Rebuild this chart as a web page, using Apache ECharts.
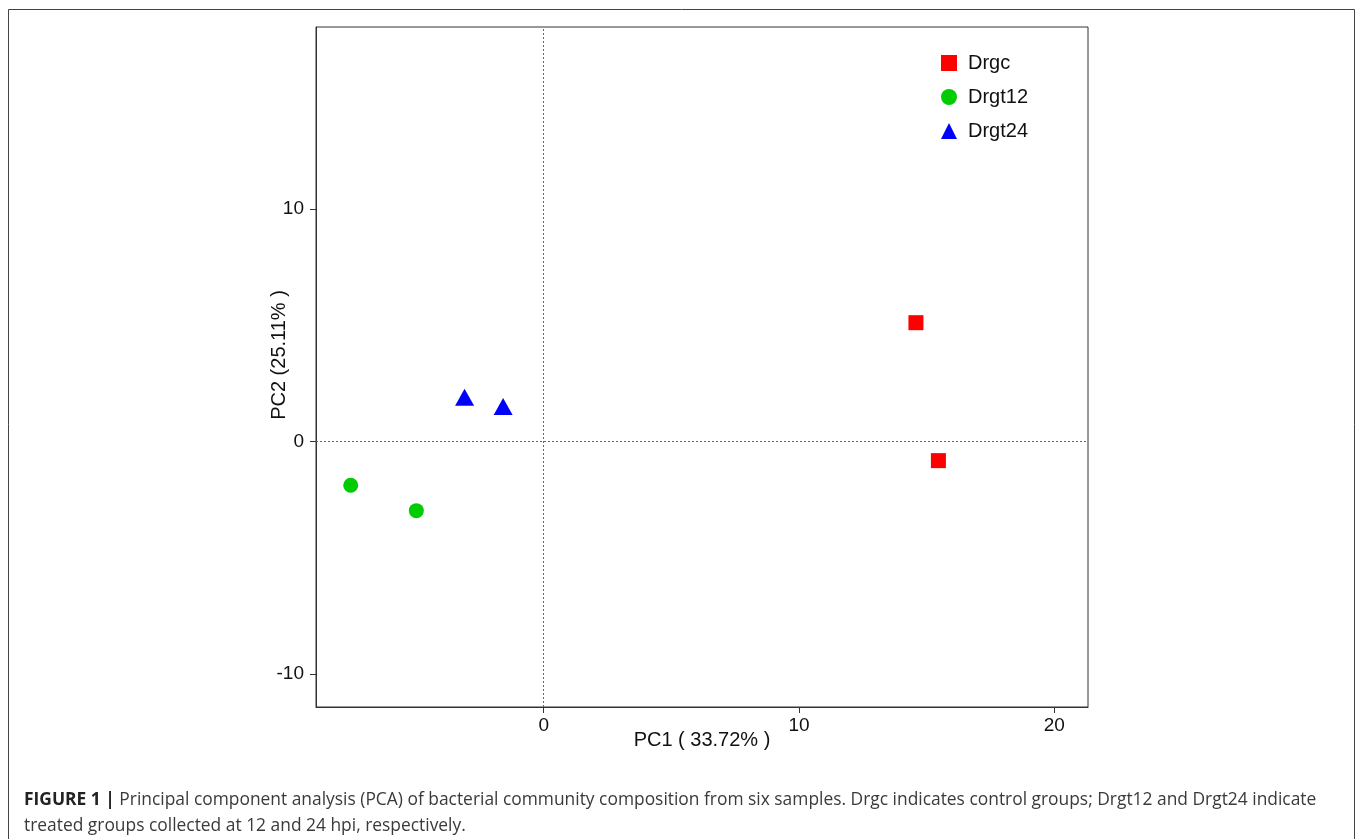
<!DOCTYPE html>
<html><head><meta charset="utf-8">
<script src="https://cdn.jsdelivr.net/npm/echarts@6/dist/echarts.min.js"></script>
<style>html,body{margin:0;padding:0;background:#fff}#c{width:1358px;height:839px}</style>
</head><body><div id="c"></div>
<script>
const groups = ['Drgc', 'Drgt12', 'Drgt24'];
const drgcPC1 = [14.58, 15.46];
const drgcPC2 = [5.11, -0.82];
const drgt12PC1 = [-7.56, -4.99];
const drgt12PC2 = [-1.88, -2.97];
const drgt24PC1 = [-3.10, -1.59];
const drgt24PC2 = [1.90, 1.51];
const xTicks = [0, 10, 20];
const yTicks = [-10, 0, 10];
const xName = 'PC1 ( 33.72% )';
const yName = 'PC2 (25.11% )';
const captionBold = 'FIGURE 1 |';
const captionLine1 = ' Principal component analysis (PCA) of bacterial community composition from six samples. Drgc indicates control groups; Drgt12 and Drgt24 indicate';
const captionLine2 = 'treated groups collected at 12 and 24 hpi, respectively.';

function pts(xs, ys) { return xs.map((x, i) => [x, ys[i]]); }

const FONT = '"Liberation Sans", Arial, sans-serif';
const CAPFONT = '"Open Sans", "Liberation Sans", sans-serif';
const chart = echarts.init(document.getElementById('c'), null, {renderer: 'canvas'});
const axisCommon = {
  type: 'value',
  axisLine: {show: true, onZero: false, lineStyle: {color: '#333', width: 1}},
  axisTick: {show: true, length: 6, inside: false, lineStyle: {color: '#333'}},
  axisLabel: {fontSize: 19, color: '#111', fontFamily: FONT},
  splitLine: {show: false},
  nameMoveOverlap: false,
  nameTextStyle: {fontSize: 20, color: '#111', fontFamily: FONT}
};
chart.setOption({
  animation: false,
  backgroundColor: '#fff',
  grid: {left: 316, top: 27, right: 270, bottom: 132, show: true, borderColor: '#333', borderWidth: 1, containLabel: false},
  xAxis: Object.assign({}, axisCommon, {
    min: -8.92, max: 21.32,
    axisTick: Object.assign({}, axisCommon.axisTick, {customValues: xTicks}),
    axisLabel: Object.assign({}, axisCommon.axisLabel, {customValues: xTicks, margin: 9}),
    name: xName, nameLocation: 'middle', nameGap: 23
  }),
  yAxis: Object.assign({}, axisCommon, {
    min: -11.41, max: 17.82,
    axisTick: Object.assign({}, axisCommon.axisTick, {customValues: yTicks}),
    axisLabel: Object.assign({}, axisCommon.axisLabel, {customValues: yTicks, margin: 12}),
    name: yName, nameLocation: 'middle', nameGap: 27,
    nameTextStyle: Object.assign({}, axisCommon.nameTextStyle, {padding: [0, 0, 0, 24]})
  }),
  legend: {
    orient: 'vertical', left: 936, top: 48, itemWidth: 16, itemHeight: 16, itemGap: 14,
    textStyle: {fontSize: 20, color: '#111', fontFamily: FONT, padding: [0, 0, 0, 6]},
    data: [
      {name: groups[0], icon: 'rect'},
      {name: groups[1], icon: 'circle'},
      {name: groups[2], icon: 'triangle'}
    ]
  },
  series: [
    {name: groups[0], type: 'scatter', symbol: 'rect', symbolSize: 15, itemStyle: {color: '#ff0000', opacity: 1},
     data: pts(drgcPC1, drgcPC2),
     markLine: {silent: true, symbol: 'none', label: {show: false}, animation: false,
       lineStyle: {color: '#666', type: [2, 2], width: 1},
       data: [{xAxis: 0}, {yAxis: 0}]}},
    {name: groups[1], type: 'scatter', symbol: 'circle', symbolSize: 15, itemStyle: {color: '#00cc00', opacity: 1},
     data: pts(drgt12PC1, drgt12PC2)},
    {name: groups[2], type: 'scatter', symbol: 'triangle', symbolSize: [19, 17], itemStyle: {color: '#0000ff', opacity: 1},
     data: pts(drgt24PC1, drgt24PC2)}
  ],
  graphic: [
    {type: 'rect', silent: true, shape: {x: 8.5, y: 9.5, width: 1346, height: 840},
     style: {fill: 'none', stroke: '#444', lineWidth: 1}},
    {type: 'text', silent: true, left: 24, top: 787,
     style: {text: '{b|' + captionBold + '}' + captionLine1 + '\n' + captionLine2,
       fontSize: 17.4, fontFamily: CAPFONT, fill: '#3a3a3a', lineHeight: 26,
       rich: {b: {fontWeight: 'bold', fontSize: 17.4, fontFamily: CAPFONT, fill: '#222', lineHeight: 26}}}}
  ]
});
</script></body></html>
